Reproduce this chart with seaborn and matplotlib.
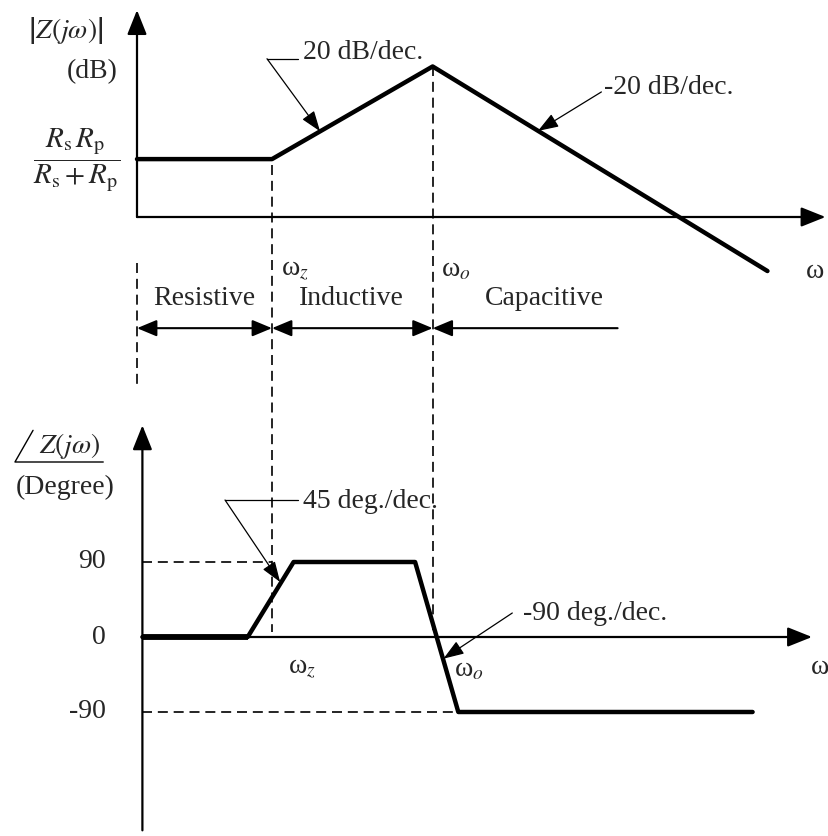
"""
Asymptotic Bode sketch of |Z(jw)| and angle of Z(jw) for the Rs/Rp series-resonant network.
"""
import matplotlib
matplotlib.use("Agg")
import matplotlib.pyplot as plt
import seaborn as sns

# Magnitude asymptote breakpoints (x in decades from the axis origin, y in dB)
mag_w = [0.0, 1.0, 2.19, 4.67]
mag_db = [15, 15, 39, -14]

# Phase asymptote breakpoints (x in decades, y in degrees)
phase_w = [0.04, 0.82, 1.16, 2.06, 2.38, 4.56]
phase_deg = [0, 0, 90, 90, -90, -90]

w_z = 1.0
w_o = 2.19
phase_ticks = [90, 0, -90]
phase_tick_labels = ["90", "0", "-90"]
regions = ["Resistive", "Inductive", "Capacitive"]
region_centers = [0.50, 1.59, 3.02]

# layout constants (pixel geometry of the sketch)
W, H = 829, 836
X0_PX, PX_PER_DEC = 137, 135
MAG_AXIS_PX, PX_PER_DB = 217, 3.86
PH_AXIS_PX, PX_PER_DEG = 637, 75 / 90
SPLIT_PX = 400

sns.set_theme(style="white")
plt.rcParams["font.family"] = ["Liberation Serif", "DejaVu Serif"]
plt.rcParams["mathtext.fontset"] = "stix"

fig = plt.figure(figsize=(W / 100, H / 100), dpi=100)
xlim = (-X0_PX / PX_PER_DEC, (W - X0_PX) / PX_PER_DEC)

ax_mag = fig.add_axes([0, (H - SPLIT_PX) / H, 1, SPLIT_PX / H])
ax_mag.set_xlim(*xlim)
ax_mag.set_ylim((MAG_AXIS_PX - SPLIT_PX) / PX_PER_DB, MAG_AXIS_PX / PX_PER_DB)

ax_ph = fig.add_axes([0, 0, 1, (H - SPLIT_PX) / H])
ax_ph.set_xlim(*xlim)
ax_ph.set_ylim((PH_AXIS_PX - H) / PX_PER_DEG, (PH_AXIS_PX - SPLIT_PX) / PX_PER_DEG)

for ax in (ax_mag, ax_ph):
    ax.set_axis_off()
    ax.patch.set_alpha(0)

FS = 20
axis_arrow = dict(arrowstyle="-|>,head_length=0.75,head_width=0.3", mutation_scale=20,
                  lw=1.6, color="black", shrinkA=0, shrinkB=0)
lead_arrow = dict(arrowstyle="-|>,head_length=0.7,head_width=0.25", mutation_scale=18,
                  lw=0.9, color="black", shrinkA=0, shrinkB=0)
dash = dict(color="black", lw=1.2, dashes=(6, 3.5), clip_on=False)

# ---------------- magnitude panel ----------------
ax_mag.annotate("", xy=(0, 53.6), xytext=(0, 0), arrowprops=axis_arrow)
ax_mag.annotate("", xy=(5.10, 0), xytext=(0, 0), arrowprops=axis_arrow)
sns.lineplot(x=mag_w, y=mag_db, ax=ax_mag, color="black", lw=3.2,
             sort=False, estimator=None)

# dashed frequency markers running down into the phase panel
ax_mag.plot([w_z, w_z], [13.5, -107.5], **dash)
ax_mag.plot([w_o, w_o], [mag_db[2], -107.5], **dash)
ax_mag.plot([0, 0], [-11.9, -43.3], **dash)

ax_mag.text(-0.53, 48.4, r"$\left|Z(j\omega)\right|$", fontsize=FS, ha="center", va="center")
ax_mag.text(-0.33, 37.6, "(dB)", fontsize=FS, ha="center", va="center")
ax_mag.text(-0.45, 14.8, r"$\dfrac{R_\mathrm{s}\,R_\mathrm{p}}{R_\mathrm{s}+R_\mathrm{p}}$",
            fontsize=FS + 1, ha="center", va="center")
ax_mag.text(5.02, -14.2, "ω", fontsize=FS, ha="center", va="center")
ax_mag.text(1.07, -13.7, "ω$_{z}$", fontsize=FS, ha="left", va="center")
ax_mag.text(2.25, -13.7, "ω$_{o}$", fontsize=FS, ha="left", va="center")

# slope callouts
ax_mag.text(1.23, 42.7, "20 dB/dec.", fontsize=FS, ha="left", va="center")
ax_mag.plot([0.963, 1.19], [41.0, 41.0], color="black", lw=0.9)
ax_mag.annotate("", xy=(1.356, 22.2), xytext=(0.963, 41.0), arrowprops=lead_arrow)
ax_mag.text(3.46, 33.6, "-20 dB/dec.", fontsize=FS, ha="left", va="center")
ax_mag.annotate("", xy=(2.97, 22.3), xytext=(3.44, 32.4), arrowprops=lead_arrow)

# region arrows
reg_y = -28.8
two_head = dict(arrowstyle="<|-|>,head_length=0.6,head_width=0.25", mutation_scale=20,
                lw=1.5, color="black", shrinkA=0, shrinkB=0)
one_head = dict(arrowstyle="-|>,head_length=0.6,head_width=0.25", mutation_scale=20,
                lw=1.5, color="black", shrinkA=0, shrinkB=0)
ax_mag.annotate("", xy=(0, reg_y), xytext=(w_z, reg_y), arrowprops=two_head)
ax_mag.annotate("", xy=(w_z, reg_y), xytext=(w_o, reg_y), arrowprops=two_head)
ax_mag.annotate("", xy=(w_o, reg_y), xytext=(3.56, reg_y), arrowprops=one_head)
for name, cx in zip(regions, region_centers):
    ax_mag.text(cx, -21.0, name, fontsize=FS, ha="center", va="center")

# ---------------- phase panel ----------------
ph_x0 = phase_w[0]
ax_ph.annotate("", xy=(ph_x0, 254), xytext=(ph_x0, -232), arrowprops=axis_arrow)
ax_ph.annotate("", xy=(5.0, 0), xytext=(ph_x0, 0), arrowprops=axis_arrow)
ax_ph.plot([ph_x0, w_z], [90, 90], **dash)
ax_ph.plot([ph_x0, phase_w[4]], [-90, -90], **dash)
sns.lineplot(x=phase_w, y=phase_deg, ax=ax_ph, color="black", lw=3.2,
             sort=False, estimator=None)
ax_ph.plot(phase_w[:2], phase_deg[:2], color="black", lw=4.2, solid_capstyle="butt")

for val, lab in zip(phase_ticks, phase_tick_labels):
    ax_ph.text(-0.23, val, lab, fontsize=FS, ha="right", va="center")

ax_ph.text(-0.50, 229, r"$Z(j\omega)$", fontsize=FS, ha="center", va="center")
ax_ph.plot([-0.77, -0.904, -0.25], [248, 210, 210], color="black", lw=1.0)
ax_ph.text(-0.53, 179, "(Degree)", fontsize=FS, ha="center", va="center")

ax_ph.text(1.23, 162, "45 deg./dec.", fontsize=FS, ha="left", va="center")
ax_ph.plot([0.652, 1.19], [164.4, 164.4], color="black", lw=0.9)
ax_ph.annotate("", xy=(1.06, 66), xytext=(0.652, 164.4), arrowprops=lead_arrow)
ax_ph.text(2.86, 28.8, "-90 deg./dec.", fontsize=FS, ha="left", va="center")
ax_ph.annotate("", xy=(2.27, -26), xytext=(2.78, 28.8), arrowprops=lead_arrow)

ax_ph.text(1.12, -37, "ω$_{z}$", fontsize=FS, ha="left", va="center")
ax_ph.text(2.35, -40, "ω$_{o}$", fontsize=FS, ha="left", va="center")
ax_ph.text(4.99, -36, "ω", fontsize=FS, ha="left", va="center")

fig.savefig("out.png", dpi=100, facecolor="white")
plt.close(fig)
